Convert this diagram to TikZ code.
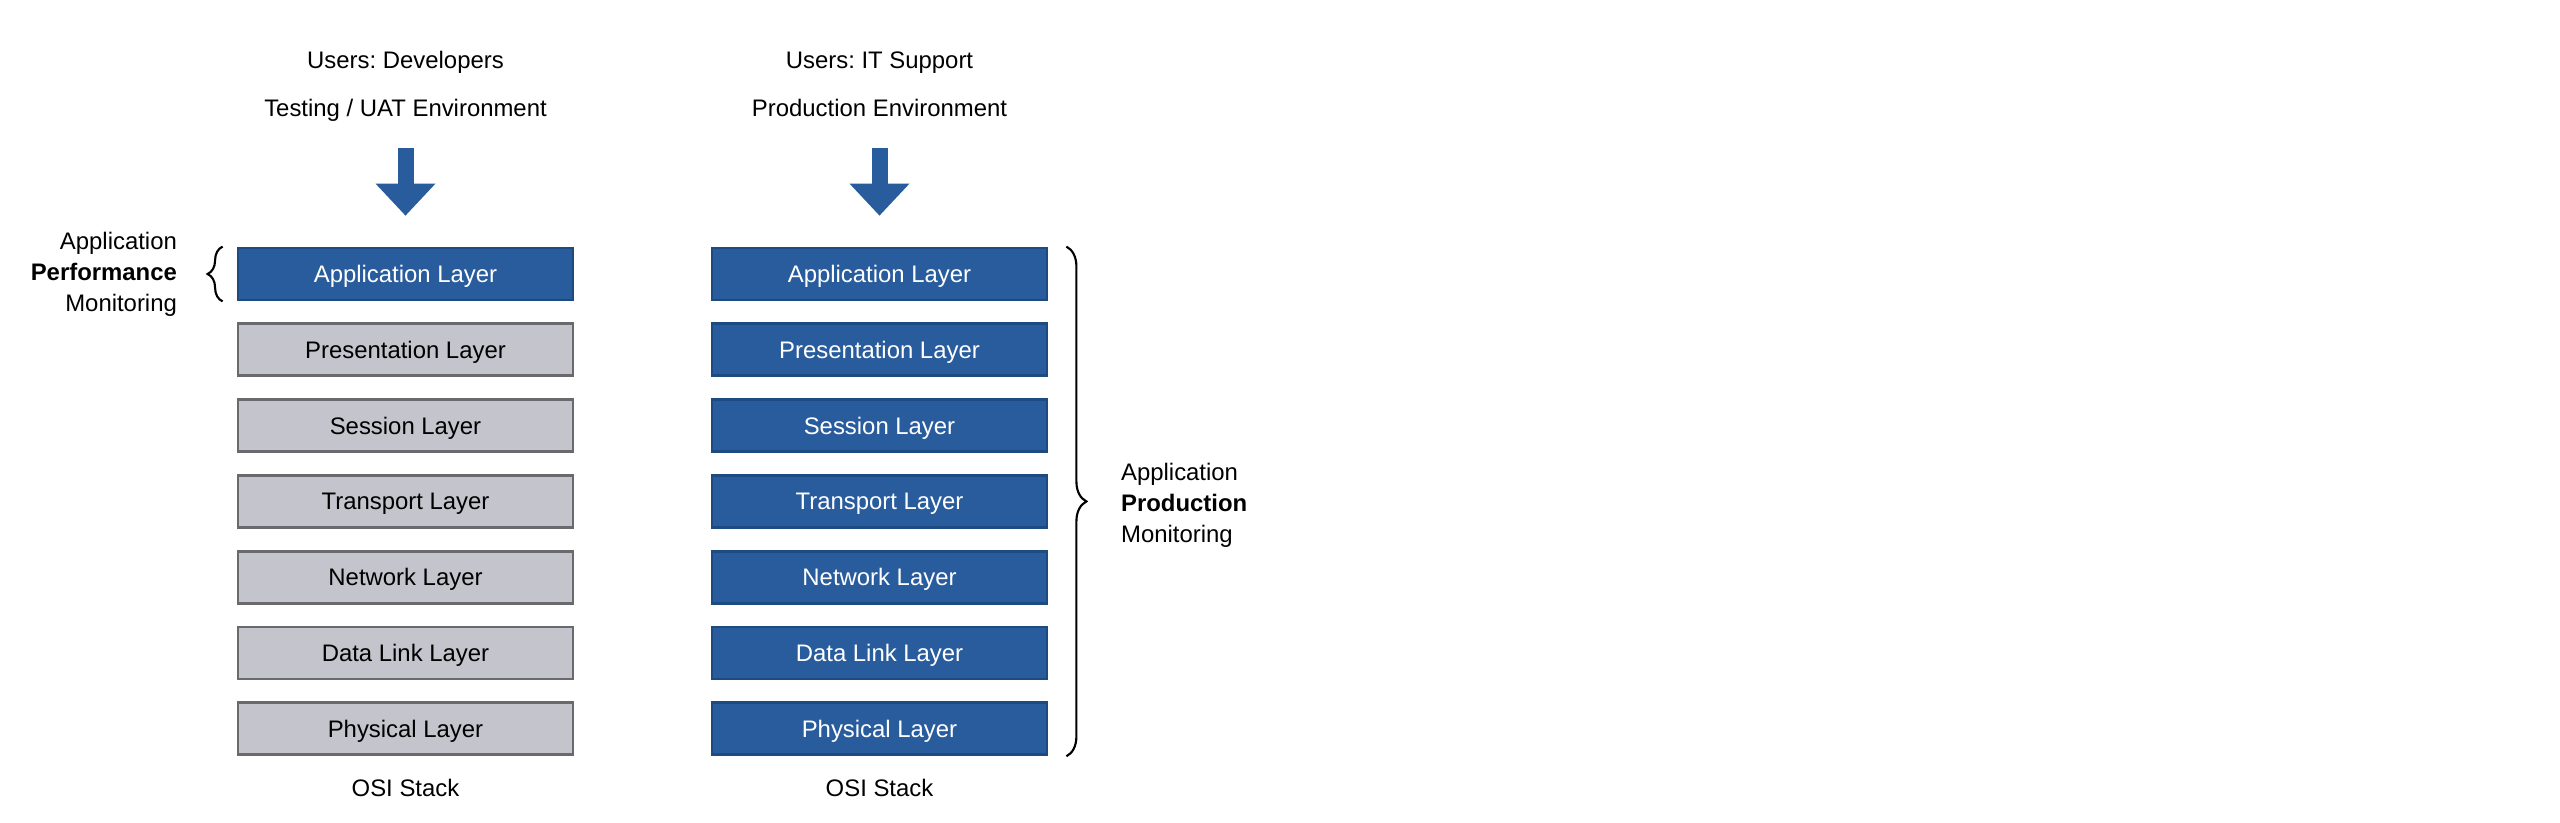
\documentclass[tikz,border=0pt]{standalone}
\usepackage{fontspec}
\setmainfont{Liberation Sans}
\usepackage{xcolor}
\usepackage{tikz}
\usetikzlibrary{arrows.meta, positioning, calc, decorations.pathreplacing}
\frenchspacing

\definecolor{osiblue}{HTML}{285C9C}
\definecolor{osiblueline}{HTML}{1E4A82}
\definecolor{osigray}{HTML}{C3C4CC}
\definecolor{osigrayline}{HTML}{6A6A6E}

\begin{document}
\begin{tikzpicture}[
    node distance=0.21cm,
    txt/.style={font=\fontsize{6.8}{8.8}\selectfont, inner sep=0pt},
    hdr/.style={txt, text height=0.18cm, text depth=0.06cm},
    layer/.style={draw, txt, text height=0.2cm, text depth=0.03cm, minimum width=3.35cm, minimum height=0.52cm, line width=0.8pt},
    graylayer/.style={layer, fill=osigray, draw=osigrayline, text=black},
    bluelayer/.style={layer, fill=osiblue, draw=osiblueline, text=white},
    downarrow/.style={draw=osiblue, line width=0.16cm, -{Triangle[width=0.6cm, length=0.32cm, line width=0pt]}},
    brc/.style={decorate, line width=0.6pt}
]
    \path[use as bounding box, fill=white] (0,0) rectangle (25.6,-8.23);

    % Testing / UAT stack
    \node[bluelayer] (appL) at (4.055,-2.74) {Application Layer};
    \node[graylayer, below=of appL] (preL) {Presentation Layer};
    \node[graylayer, below=of preL] (sesL) {Session Layer};
    \node[graylayer, below=of sesL] (traL) {Transport Layer};
    \node[graylayer, below=of traL] (netL) {Network Layer};
    \node[graylayer, below=of netL] (datL) {Data Link Layer};
    \node[graylayer, below=of datL] (phyL) {Physical Layer};
    \node[txt, below=0.22cm of phyL] (osiL) {OSI Stack};

    % Production stack
    \node[bluelayer] (appR) at (8.795,-2.74) {Application Layer};
    \node[bluelayer, below=of appR] (preR) {Presentation Layer};
    \node[bluelayer, below=of preR] (sesR) {Session Layer};
    \node[bluelayer, below=of sesR] (traR) {Transport Layer};
    \node[bluelayer, below=of traR] (netR) {Network Layer};
    \node[bluelayer, below=of netR] (datR) {Data Link Layer};
    \node[bluelayer, below=of datR] (phyR) {Physical Layer};
    \node[txt, below=0.22cm of phyR] (osiR) {OSI Stack};

    % Headers
    \node[hdr, above=1.23cm of appL] (envL) {Testing / UAT Environment};
    \node[hdr, above=0.23cm of envL] (userL) {Users: Developers};
    \node[hdr, above=1.23cm of appR] (envR) {Production Environment};
    \node[hdr, above=0.23cm of envR] (userR) {Users: IT Support};

    % Arrows
    \draw[downarrow] ([yshift=-0.24cm]envL.south) -- ([yshift=0.31cm]appL.north);
    \draw[downarrow] ([yshift=-0.24cm]envR.south) -- ([yshift=0.31cm]appR.north);

    % Monitoring braces
    \draw[brc, decoration={brace, amplitude=0.15cm}] ([xshift=-0.14cm]appL.south west) -- ([xshift=-0.14cm]appL.north west);
    \node[txt, align=right, left=0.59cm of appL] (perfmon) {Application\\\textbf{Performance}\\Monitoring};

    \draw[brc, decoration={brace, amplitude=0.2cm}] ([xshift=0.18cm]appR.north east) -- ([xshift=0.18cm]phyR.south east);
    \node[txt, align=left, anchor=west] (prodmon) at ($(appR.north east)!0.5!(phyR.south east)+(0.72,-0.04)$) {Application\\\textbf{Production}\\Monitoring};

\end{tikzpicture}
\end{document}
